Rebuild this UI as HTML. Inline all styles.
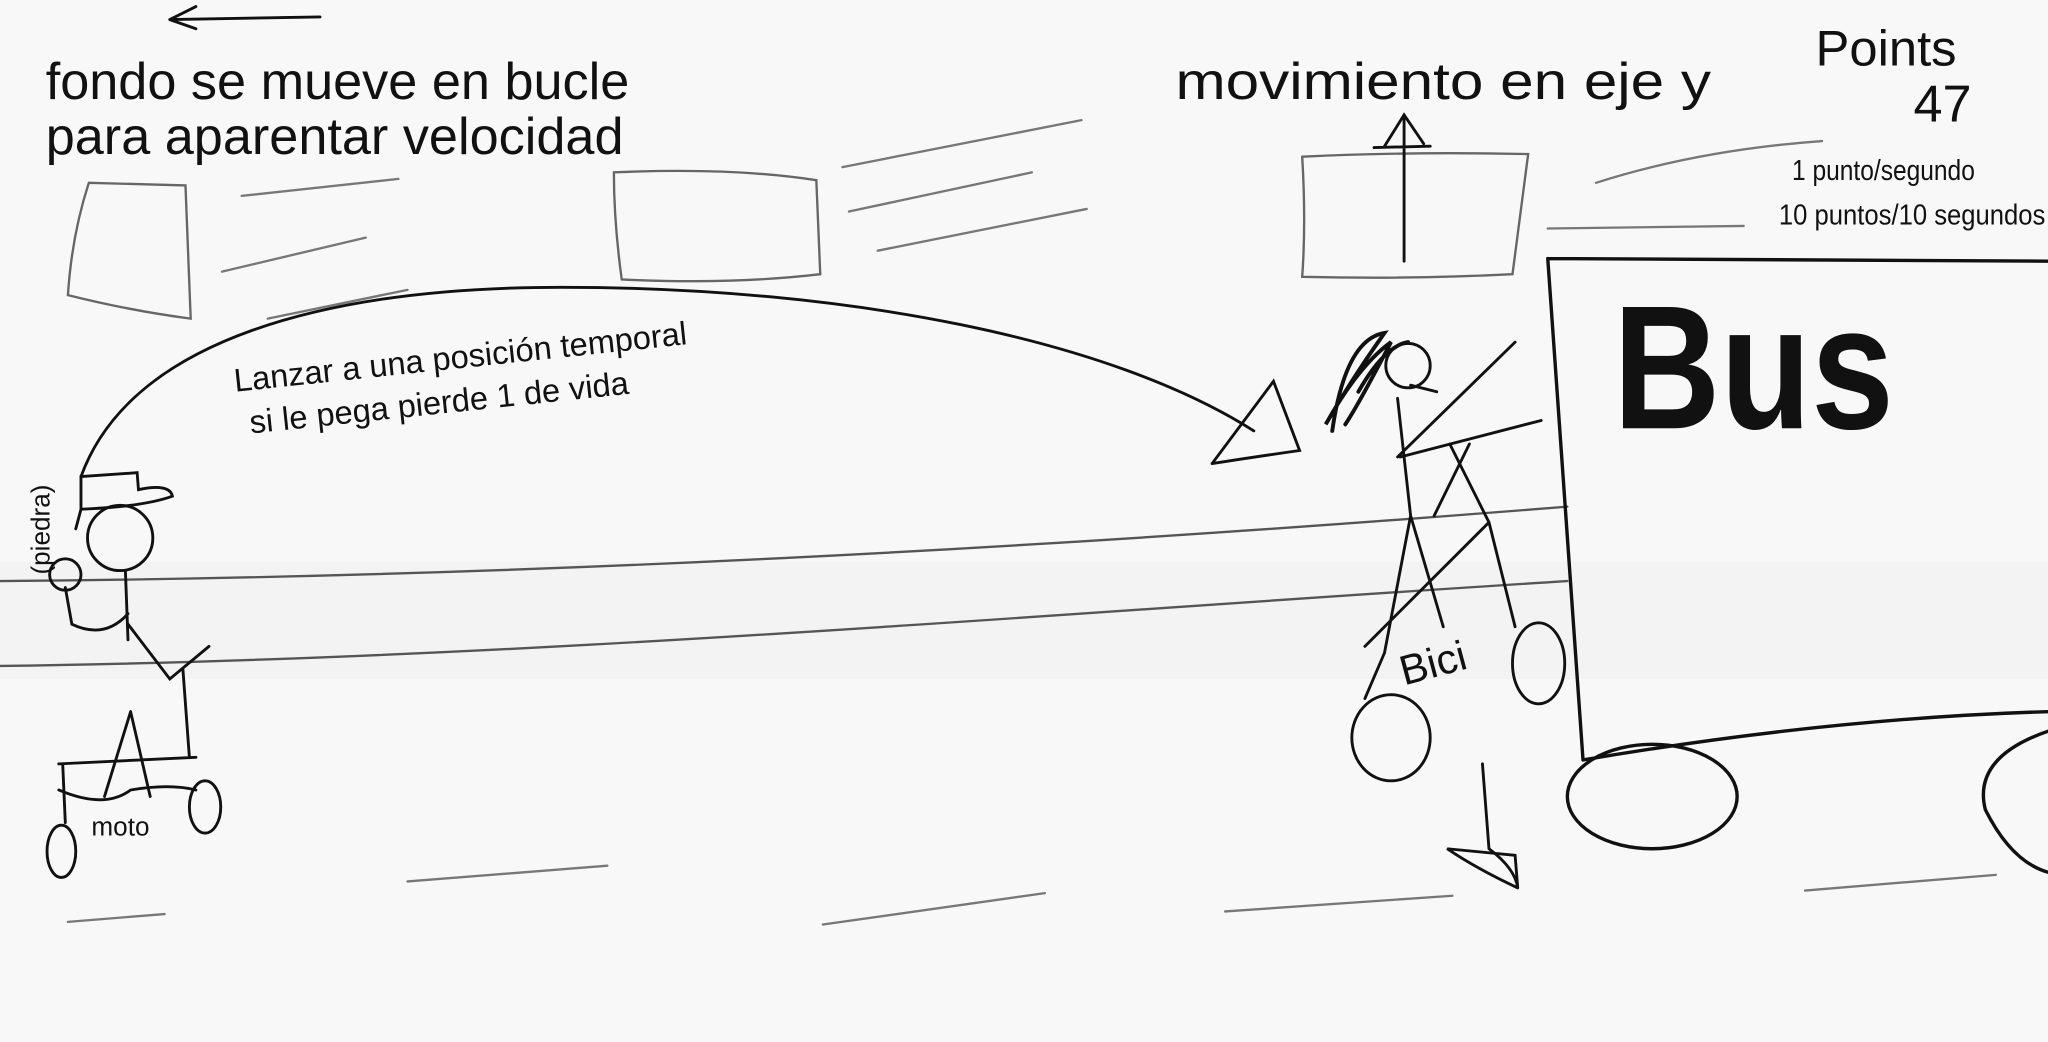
<!DOCTYPE html>
<html><head><meta charset="utf-8"><style>
html,body{margin:0;padding:0;background:#f8f8f8;}
svg{display:block;}
text{font-family:"Liberation Sans",sans-serif;fill:#111;}
</style></head><body>
<svg width="2048" height="1042" viewBox="0 0 1568 798" preserveAspectRatio="none">
<rect width="1568" height="798" fill="#f8f8f8"/>
<rect x="0" y="430" width="1568" height="90" fill="#f3f3f3"/>
<g stroke="#111" fill="none" stroke-width="2.2" stroke-linecap="round">
<g><path d="M130,15 L245,13 M130,15 L150,5 M130,15 L150,22"/></g>
<g stroke="#666" stroke-width="1.8">
<path d="M68,140 L142,142 L146,244 Q100,238 52,226 Q55,180 68,140"/>
<path d="M470,132 Q560,128 625,138 L628,210 Q560,218 476,214 Q470,170 470,132"/>
<path d="M997,120 Q1080,116 1170,118 L1158,210 Q1080,214 997,212 Q1000,170 997,120"/>
</g>
<g stroke="#777" stroke-width="1.8">
<path d="M185,150 L305,137 M170,208 L280,182 M205,244 L312,222 M645,128 L828,92 M650,162 L790,132 M672,192 L832,160 M1222,140 Q1300,115 1395,108 M1185,175 L1335,173"/>
<path d="M52,706 L126,700 M312,675 L465,663 M630,708 L800,684 M938,698 L1112,686 M1382,682 L1528,670"/>
</g>
<g stroke="#555" stroke-width="1.8">
<path d="M0,445 C400,442 800,420 1200,388"/>
<path d="M0,510 C400,505 800,470 1200,445"/>
</g>
<g>
<path d="M62,365 C100,260 250,220 430,220 C650,220 850,260 960,330"/>
<path d="M928,355 L975,292 L995,345 Q960,350 928,355"/>
</g>
<g>
<circle cx="92" cy="412" r="25"/>
<path d="M62,365 L105,362 L106,375 Q130,370 132,380 Q110,388 62,390 Z M62,390 L58,405"/>
<circle cx="50" cy="440" r="12"/>
<path d="M96,437 L98,490 M98,470 Q80,490 55,478 L50,450 M98,478 L130,520 L160,495 M140,512 L145,580 M100,545 L80,610 M100,545 L115,610 M45,585 L150,580 M48,585 L50,630 M45,605 Q80,620 100,605 Q130,600 150,605"/>
<ellipse cx="47" cy="652" rx="11" ry="20"/>
<ellipse cx="157" cy="618" rx="12" ry="20"/>
</g>
<g>
<path stroke-width="3" d="M1020,330 Q1030,260 1060,255 Q1035,290 1015,325 Q1040,280 1065,262 Q1040,310 1030,325 M1040,300 Q1060,265 1078,262"/>
<circle cx="1078" cy="280" r="17"/>
<path d="M1080,295 L1100,300 M1070,305 L1080,395 M1070,350 L1160,262 M1072,350 L1180,322 M1080,395 L1060,500 L1045,535 M1080,395 L1105,480 M1110,340 L1140,400 L1160,480 M1125,340 L1098,395 M1140,400 L1045,495"/>
<ellipse cx="1065" cy="565" rx="30" ry="33"/>
<ellipse cx="1178" cy="508" rx="20" ry="31"/>
<path d="M1135,585 L1140,650 Q1160,665 1162,680 L1160,655 L1108,650 Q1130,665 1162,680"/>
</g>
<g><path d="M1075,88 L1075,200 M1060,112 L1075,88 L1090,110 M1052,113 L1095,112"/></g>
<g stroke-width="2.6">
<path d="M1185,198 L1568,200 M1185,198 L1212,582 M1212,582 Q1400,550 1568,545"/>
<ellipse cx="1265" cy="610" rx="65" ry="40"/>
<path d="M1568,560 Q1510,580 1520,620 Q1540,660 1568,668"/>
</g>
</g>
<g>
<text x="35" y="76" font-size="40">fondo se mueve en bucle</text>
<text x="35" y="118" font-size="40">para aparentar  velocidad</text>
<text x="900" y="76" font-size="40" textLength="410" lengthAdjust="spacingAndGlyphs">movimiento en eje y</text>
<text x="1390" y="50" font-size="38" textLength="108" lengthAdjust="spacingAndGlyphs">Points</text>
<text x="1465" y="93" font-size="40">47</text>
<text x="1372" y="138" font-size="22" textLength="140" lengthAdjust="spacingAndGlyphs">1 punto/segundo</text>
<text x="1362" y="172" font-size="22" textLength="204" lengthAdjust="spacingAndGlyphs">10 puntos/10 segundos</text>
<text x="180" y="300" font-size="25" transform="rotate(-6 180 300)">Lanzar a una posición temporal</text>
<text x="192" y="332" font-size="25" transform="rotate(-6 192 332)">si le pega pierde 1 de vida</text>
<text x="38" y="440" font-size="20" transform="rotate(-90 38 440)">(piedra)</text>
<text x="70" y="640" font-size="20">moto</text>
<text x="1075" y="525" font-size="32" transform="rotate(-15 1075 525)">Bici</text>
<text x="1235" y="328" font-size="135" font-weight="bold" textLength="215" lengthAdjust="spacingAndGlyphs">Bus</text>
</g>
</svg>
</body></html>
